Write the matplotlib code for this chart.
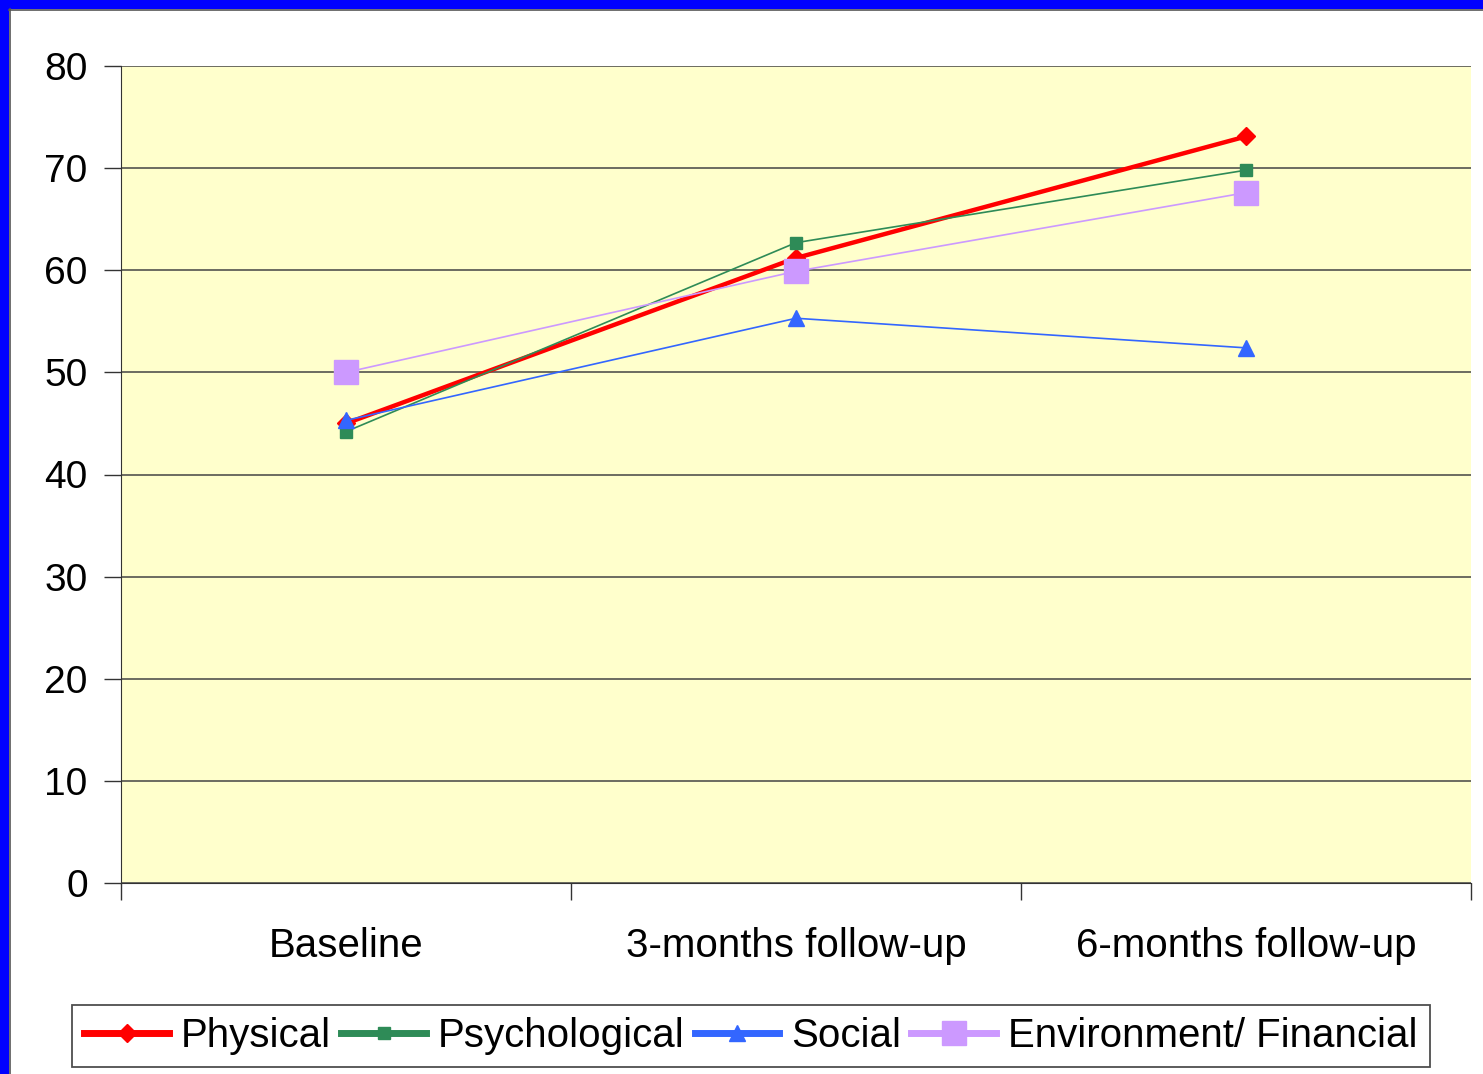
import matplotlib
matplotlib.use("Agg")
import matplotlib.pyplot as plt
from matplotlib.patches import Rectangle
import numpy as np

plt.rcParams['font.family'] = ['Liberation Sans', 'DejaVu Sans']

# time points and mean domain scores
categories = ['Baseline', '3-months follow-up', '6-months follow-up']
physical = [45.0, 61.2, 73.1]
psychological = [44.2, 62.7, 69.8]
social = [45.3, 55.3, 52.4]
environment = [50.0, 59.9, 67.6]

series = [
    ('Physical', physical, '#FF0000', 'D', 9, 3.2),
    ('Psychological', psychological, '#2E8B57', 's', 9, 1.2),
    ('Social', social, '#3366FF', '^', 11, 1.2),
    ('Environment/ Financial', environment, '#CC99FF', 's', 17, 1.2),
]

fig = plt.figure(figsize=(14.83, 10.74), dpi=100)
fig.patch.set_facecolor('white')

# blue slide edge and thin frame
fig.patches.append(Rectangle((0, 1 - 9 / 1074), 1, 9 / 1074, transform=fig.transFigure,
                             facecolor='#0000FF', edgecolor='none', zorder=0))
fig.patches.append(Rectangle((0, 0), 9 / 1483, 1, transform=fig.transFigure,
                             facecolor='#0000FF', edgecolor='none', zorder=0))
fig.add_artist(plt.Line2D([9 / 1483, 1], [1 - 9.5 / 1074] * 2, color='#555555', lw=1.2,
                          transform=fig.transFigure))
fig.add_artist(plt.Line2D([9.5 / 1483] * 2, [0, 1 - 9 / 1074], color='#555555', lw=1.2,
                          transform=fig.transFigure))

ax = fig.add_axes([121 / 1483, 191 / 1074, 1350 / 1483, 817 / 1074])
ax.set_facecolor('#FFFFCC')

x = np.arange(len(categories))
for name, vals, color, marker, ms, lw in series:
    ax.plot(x, vals, color=color, marker=marker, markersize=ms, linewidth=lw,
            label=name, zorder=3)

ax.set_xlim(-0.5, 2.5)
ax.set_ylim(0, 80)
ax.set_yticks(np.arange(0, 81, 10))
ax.yaxis.grid(True, color='#444444', linewidth=1.1)
ax.set_axisbelow(True)

ax.set_xticks([-0.5, 0.5, 1.5, 2.5])
ax.set_xticklabels([])
ax.set_xticks(x, minor=True)
ax.set_xticklabels(categories, minor=True)
ax.tick_params(axis='x', which='major', length=12, width=1, color='#333333', direction='out')
ax.tick_params(axis='x', which='minor', length=0, pad=32, labelsize=29)
ax.tick_params(axis='y', length=12, width=1, color='#333333', direction='out',
               pad=12, labelsize=28)

for side in ['top', 'right']:
    ax.spines[side].set_visible(False)
ax.spines['left'].set_color('#333333')
ax.spines['bottom'].set_color('#333333')

leg = fig.legend(loc='center', bbox_to_anchor=(751 / 1483, 1 - 1036 / 1074), ncol=4,
                 fontsize=29, frameon=True, fancybox=False, handlelength=2.1,
                 handletextpad=0.3, columnspacing=0.25, borderpad=0.3,
                 borderaxespad=0)
leg.get_frame().set_edgecolor('#222222')
leg.get_frame().set_linewidth(1.3)
for h in leg.legend_handles:
    h.set_linewidth(5)

fig.savefig('out.png', dpi=100)
